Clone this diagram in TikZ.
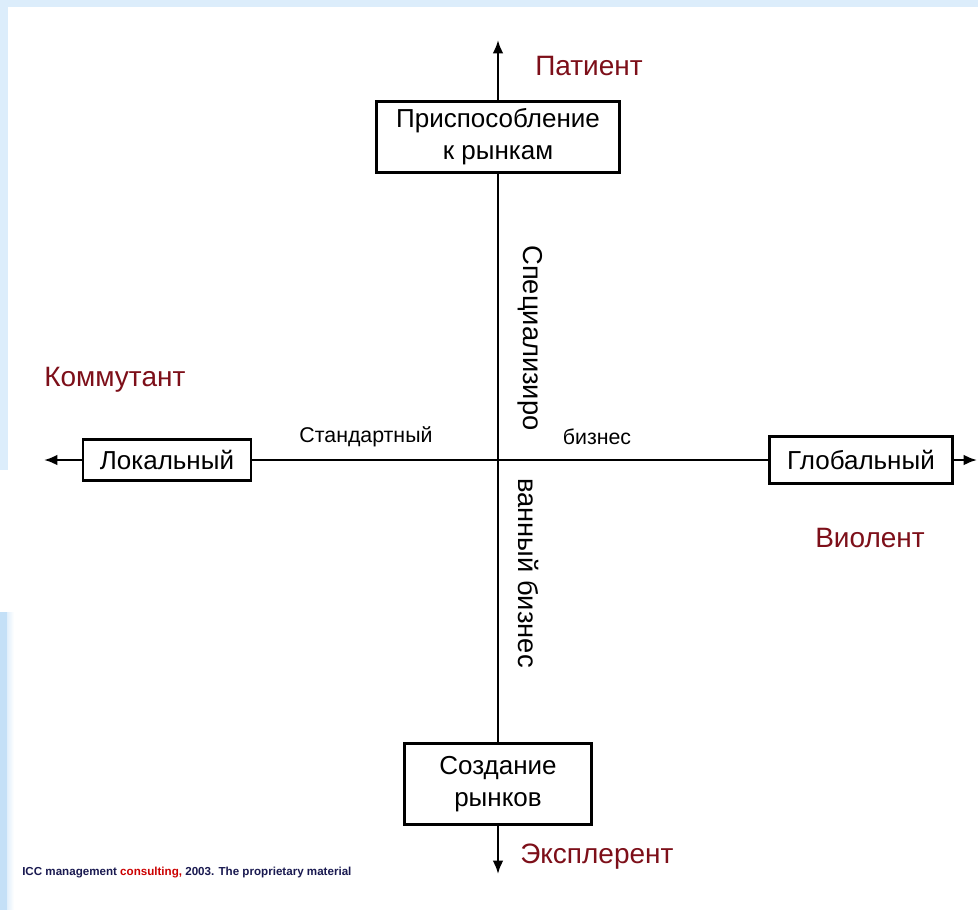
\documentclass[tikz,border=0pt]{standalone}
\usepackage{fontspec}
\setmainfont{Liberation Sans}
\usetikzlibrary{arrows.meta}
\definecolor{edgeblue}{RGB}{220,237,251}
\definecolor{deepblue}{RGB}{196,224,247}
\definecolor{labelred}{RGB}{125,15,25}
\definecolor{navy}{RGB}{25,25,80}
\begin{document}
\begin{tikzpicture}[x=0.75pt,y=-0.75pt,
  box/.style={draw,line width=2.1pt,align=center,inner sep=0pt,font=\fontsize{19.5pt}{24pt}\selectfont},
  axis/.style={line width=1.7pt},
  tip/.style={axis,-{Latex[length=10pt,width=8pt]}},
  pole/.style={text=labelred,font=\fontsize{21pt}{24pt}\selectfont,inner sep=0pt},
  note/.style={font=\fontsize{16pt}{18pt}\selectfont,inner sep=0pt},
  vnote/.style={font=\fontsize{20.5pt}{22pt}\selectfont,inner sep=0pt,rotate=-90}]
  % page and tinted margins
  \useasboundingbox (0,0) rectangle (978,910);
  \fill[white] (0,0) rectangle (978,910);
  \fill[edgeblue] (0,0) rectangle (978,7);
  \fill[edgeblue] (0,0) rectangle (8,470);
  \shade[left color=deepblue,right color=white] (0,612) rectangle (14,910);
  \fill[deepblue] (0,612) rectangle (7,910);

  % four boxes (sizes in pt)
  \node[box,minimum width=182pt,minimum height=53pt] (adapt) at (498,137) {Приспособление\\к рынкам};
  \node[box,minimum width=140pt,minimum height=61pt] (create) at (498,784) {Создание\\рынков};
  \node[box,minimum width=126pt,minimum height=31pt] (local) at (167,460) {Локальный};
  \node[box,minimum width=137pt,minimum height=35pt] (global) at (861,460) {Глобальный};

  % free ends of the axes
  \coordinate (ntip) at (498,40);
  \coordinate (stip) at (498,874);
  \coordinate (wtip) at (44,460);
  \coordinate (etip) at (977,460);

  % axes
  \draw[axis] (adapt.south) -- (create.north);
  \draw[axis] (local.east) -- (global.west);
  \draw[tip] (adapt.north) -- (ntip);
  \draw[tip] (create.south) -- (stip);
  \draw[tip] (local.west) -- (wtip);
  \draw[tip] (global.east) -- (etip);

  % strategy types
  \node[pole,anchor=west] (patient) at (535,66) {Патиент};
  \node[pole,anchor=west] (commut) at (44,380) {Коммутант};
  \node[pole,anchor=west] (violent) at (815,538) {Виолент};
  \node[pole,anchor=west] (explor) at (520,857) {Эксплерент};

  % business type captions
  \node[note] (standard) at (366,437) {Стандартный};
  \node[note] (biz) at (597,437) {бизнес};
  \node[vnote] (spec) at (530,338) {Специализиро};
  \node[vnote] (spec2) at (529,573) {ванный бизнес};

  % footer
  \node[anchor=west,inner sep=0pt,text=navy,font=\fontsize{8.7pt}{10pt}\selectfont\bfseries] (foot) at (22,873)
    {ICC management \textcolor{red!80!black}{consulting,} 2003. The proprietary material};
\end{tikzpicture}
\end{document}
